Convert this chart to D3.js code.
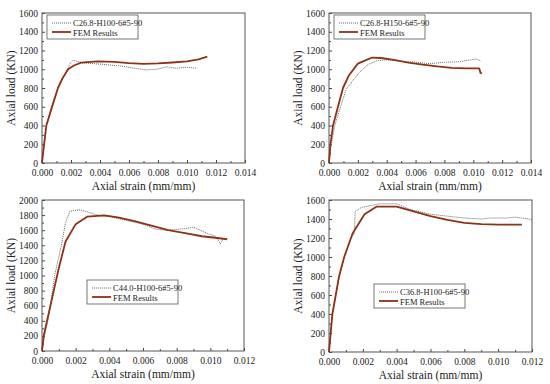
<!DOCTYPE html>
<html><head><meta charset="utf-8">
<script src="https://cdn.jsdelivr.net/npm/d3@7"></script>
<style>
body{margin:0;background:#fff;}
svg text{font-family:"Liberation Serif","Times New Roman",serif;fill:#222;}
</style></head>
<body><svg id="c" width="550" height="384"></svg>
<script>
// ---- Data ----
const seriesNames = ["C26.8-H100-6#5-90","C26.8-H150-6#5-90","C44.0-H100-6#5-90","C36.8-H100-6#5-90"];
const femName = "FEM Results";
const xTitle = "Axial strain (mm/mm)";
const yTitle = "Axial load (KN)";

const xMax = [0.014, 0.014, 0.012, 0.012];
const yMax = [1600, 1600, 2000, 1600];
const yStep = [200, 200, 200, 200];

const exp1 = [[0,0],[0.0001,130],[0.0003,400],[0.00064,600],[0.0011,800],[0.00145,900],[0.00175,1000],[0.00195,1060],[0.00214,1095],[0.0024,1085],[0.0028,1068],[0.004,1055],[0.0054,1035],[0.0065,1008],[0.0072,993],[0.0079,1000],[0.0086,1025],[0.0093,1010],[0.0098,1022],[0.0103,1018],[0.0107,1010]];
const fem1 = [[0,0],[0.0001,140],[0.0003,400],[0.0007,600],[0.0011,800],[0.0014,900],[0.0018,1000],[0.0022,1040],[0.0027,1070],[0.0038,1085],[0.005,1078],[0.006,1065],[0.007,1058],[0.008,1062],[0.009,1072],[0.01,1085],[0.0108,1105],[0.0114,1135]];

const exp2 = [[0,0],[0.0001,150],[0.0004,400],[0.0008,600],[0.0012,790],[0.0016,870],[0.002,950],[0.0027,1050],[0.0033,1090],[0.004,1100],[0.005,1085],[0.006,1075],[0.007,1060],[0.008,1075],[0.009,1080],[0.0098,1100],[0.0102,1110],[0.0105,1090]];
const fem2 = [[0,0],[0.0001,200],[0.00028,400],[0.00062,600],[0.00097,800],[0.00136,930],[0.002,1060],[0.0026,1100],[0.003,1125],[0.0036,1120],[0.0045,1100],[0.0055,1070],[0.0065,1050],[0.0075,1030],[0.0085,1015],[0.0095,1010],[0.0104,1010],[0.01045,990],[0.0105,960],[0.0106,955]];

const exp3 = [[0,0],[0.00015,200],[0.00035,400],[0.0005,600],[0.00063,800],[0.00075,1000],[0.00095,1200],[0.00115,1400],[0.0014,1700],[0.00165,1850],[0.0022,1870],[0.0026,1850],[0.0033,1800],[0.004,1780],[0.005,1730],[0.006,1680],[0.0068,1610],[0.0074,1600],[0.008,1610],[0.0085,1620],[0.009,1640],[0.0094,1600],[0.0099,1550],[0.0103,1520],[0.0106,1420],[0.0108,1500]];
const fem3 = [[0,0],[0.0001,200],[0.0003,400],[0.0005,600],[0.0007,800],[0.001,1100],[0.0014,1450],[0.002,1680],[0.0027,1780],[0.0033,1790],[0.0037,1795],[0.0045,1770],[0.0055,1720],[0.0065,1660],[0.0075,1600],[0.0085,1560],[0.0095,1520],[0.0103,1500],[0.011,1480]];

const exp4 = [[0,0],[0.0001,200],[0.0002,400],[0.0004,600],[0.0006,800],[0.0009,1000],[0.0013,1200],[0.0015,1250],[0.00155,1480],[0.0019,1520],[0.0024,1540],[0.003,1560],[0.004,1560],[0.0048,1500],[0.006,1450],[0.007,1430],[0.008,1410],[0.009,1400],[0.0095,1410],[0.0105,1410],[0.011,1420],[0.0118,1400],[0.012,1390]];
const fem4 = [[0,0],[0.0001,200],[0.0002,400],[0.0004,600],[0.0006,800],[0.0009,1000],[0.0014,1250],[0.0021,1450],[0.0028,1530],[0.004,1530],[0.005,1480],[0.006,1430],[0.007,1390],[0.008,1360],[0.009,1345],[0.01,1340],[0.0114,1340]];

const expData = [exp1, exp2, exp3, exp4];
const femData = [fem1, fem2, fem3, fem4];

// ---- Layout ----
const boxes = [
  {l:42, r:245, t:13, b:163, lg:[47,15]},
  {l:329, r:531, t:13, b:163, lg:[334,15]},
  {l:42, r:244, t:200, b:351, lg:[87,280]},
  {l:329, r:532, t:200, b:352, lg:[374,284]}
];
const femColor = "#8c3216";
const expColor = "#555";
const svg = d3.select("#c");

boxes.forEach((bx, i) => {
  const x = d3.scaleLinear().domain([0, xMax[i]]).range([bx.l, bx.r]);
  const y = d3.scaleLinear().domain([0, yMax[i]]).range([bx.b, bx.t]);
  const g = svg.append("g");
  const xt = d3.range(0, xMax[i] + 1e-9, 0.002);
  const yt = d3.range(0, yMax[i] + 1e-9, yStep[i]);
  const xm = d3.range(0.001, xMax[i], 0.002);
  const ym = d3.range(yStep[i]/2, yMax[i], yStep[i]);

  const xa = g.append("g").attr("transform", `translate(0,${bx.b})`)
    .call(d3.axisBottom(x).tickValues(xt).tickFormat(d3.format(".3f")).tickSizeInner(-3).tickSizeOuter(0).tickPadding(6));
  xa.select(".domain").remove();
  xa.selectAll("line").attr("stroke", "#444");
  xa.selectAll("text").attr("font-size", 9.5).attr("font-family", "Liberation Serif").attr("fill","#222");
  g.append("g").attr("transform", `translate(0,${bx.b})`)
    .call(d3.axisBottom(x).tickValues(xm).tickFormat("").tickSizeInner(-2).tickSizeOuter(0))
    .call(s => { s.select(".domain").remove(); s.selectAll("line").attr("stroke","#444"); });

  const ya = g.append("g").attr("transform", `translate(${bx.l},0)`)
    .call(d3.axisLeft(y).tickValues(yt).tickFormat(d3.format("d")).tickSizeInner(-3).tickSizeOuter(0).tickPadding(4));
  ya.select(".domain").remove();
  ya.selectAll("line").attr("stroke", "#444");
  ya.selectAll("text").attr("font-size", 9.5).attr("font-family", "Liberation Serif").attr("fill","#222");
  g.append("g").attr("transform", `translate(${bx.l},0)`)
    .call(d3.axisLeft(y).tickValues(ym).tickFormat("").tickSizeInner(-2).tickSizeOuter(0))
    .call(s => { s.select(".domain").remove(); s.selectAll("line").attr("stroke","#444"); });

  g.append("rect").attr("x", bx.l).attr("y", bx.t).attr("width", bx.r - bx.l).attr("height", bx.b - bx.t)
    .attr("fill", "none").attr("stroke", "#555").attr("stroke-width", 1);

  const line = d3.line().x(d => x(d[0])).y(d => y(d[1]));
  g.append("path").datum(expData[i]).attr("d", line).attr("fill", "none")
    .attr("stroke", expColor).attr("stroke-width", 0.9).attr("stroke-dasharray", "1,1");
  g.append("path").datum(femData[i]).attr("d", line).attr("fill", "none")
    .attr("stroke", femColor).attr("stroke-width", 1.8).attr("stroke-linejoin", "round");

  g.append("text").attr("x", (bx.l + bx.r) / 2).attr("y", bx.b + 27).attr("text-anchor", "middle")
    .attr("font-size", 11.5).text(xTitle);
  g.append("text").attr("transform", `translate(${bx.l - 27},${(bx.t + bx.b) / 2}) rotate(-90)`)
    .attr("text-anchor", "middle").attr("font-size", 11.5).text(yTitle);

  const [lx, ly] = bx.lg;
  const lg = g.append("g").attr("transform", `translate(${lx},${ly})`);
  lg.append("rect").attr("width", 91).attr("height", 24).attr("fill", "#fff").attr("stroke", "#555").attr("stroke-width", 0.8);
  lg.append("line").attr("x1", 5).attr("x2", 24).attr("y1", 8).attr("y2", 8)
    .attr("stroke", expColor).attr("stroke-width", 0.9).attr("stroke-dasharray", "1,1");
  lg.append("line").attr("x1", 5).attr("x2", 24).attr("y1", 17).attr("y2", 17)
    .attr("stroke", femColor).attr("stroke-width", 1.8);
  lg.append("text").attr("x", 26).attr("y", 11).attr("font-size", 8.5).text(seriesNames[i]);
  lg.append("text").attr("x", 26).attr("y", 20.5).attr("font-size", 8.5).text(femName);
});
</script></body></html>
